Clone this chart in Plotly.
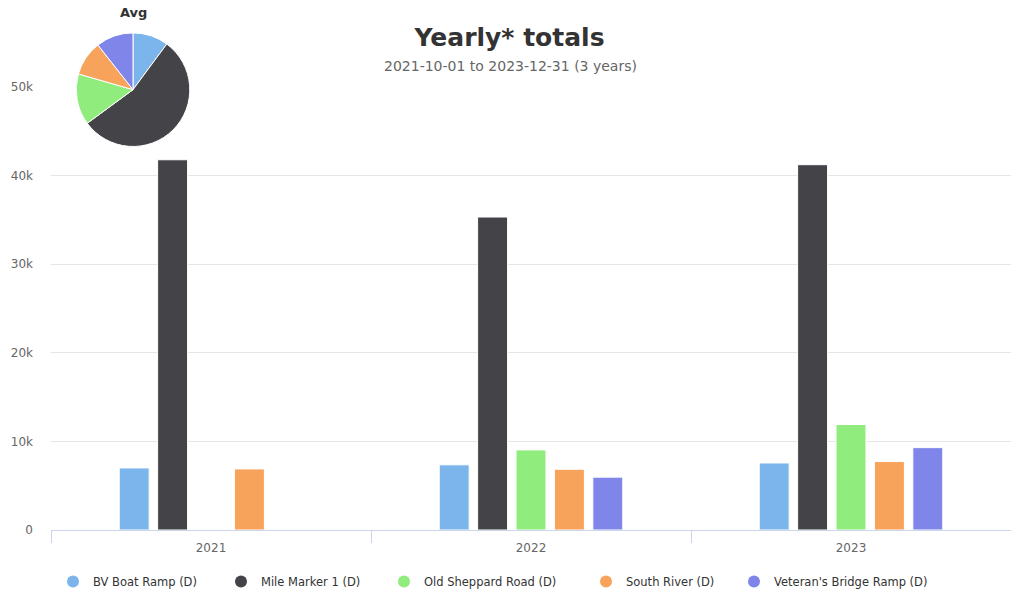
import plotly.graph_objects as go

years = ["2021", "2022", "2023"]
series_names = ["BV Boat Ramp (D)", "Mile Marker 1 (D)", "Old Sheppard Road (D)",
                "South River (D)", "Veteran's Bridge Ramp (D)"]
colors = ["#7cb5ec", "#434348", "#90ed7d", "#f7a35c", "#8085e9"]

bv_boat_ramp = [7000, 7350, 7560]
mile_marker_1 = [41760, 35300, 41200]
old_sheppard_road = [None, 9030, 11900]
south_river = [6890, 6850, 7720]
veterans_bridge = [None, 5960, 9290]

series_values = [bv_boat_ramp, mile_marker_1, old_sheppard_road, south_river, veterans_bridge]

y_tick_vals = [0, 10000, 20000, 30000, 40000, 50000]
y_tick_text = ["0", "10k", "20k", "30k", "40k", "50k"]

# legend entry widths (px) to reproduce spacing of the original legend
legend_widths = [123, 118, 157, 103, 160]

W, H = 1011, 596
ML, MR, MT, MB = 51, 0, 5, 66
plot_h = H - MT - MB
y_top_px = 85  # pixel of 50k
ydom_top = (H - MB - y_top_px) / plot_h

def px_to_paper_x(px):
    return (px - ML) / (W - ML - MR)

def px_to_paper_y(py):
    return (H - MB - py) / plot_h

fig = go.Figure()

for name, vals, col, lw in zip(series_names, series_values, colors, legend_widths):
    fig.add_trace(go.Bar(
        x=years, y=vals, name=name, marker=dict(color=col, line=dict(color="white", width=1)),
        legendgroup=name, showlegend=False,
    ))
    fig.add_trace(go.Scatter(
        x=[None], y=[None], mode="markers", name=name, legendgroup=name, legendwidth=lw,
        marker=dict(symbol="circle", size=12, color=col), showlegend=True,
    ))

# Average pie
avg_values = []
for vals in series_values:
    present = [v for v in vals if v is not None]
    avg_values.append(sum(present) / len(present))

fig.add_trace(go.Pie(
    labels=series_names, values=avg_values, sort=False, direction="clockwise", rotation=0,
    marker=dict(colors=colors, line=dict(color="white", width=1)),
    textinfo="none", showlegend=False,
    domain=dict(x=[px_to_paper_x(76), px_to_paper_x(190)],
                y=[px_to_paper_y(145), px_to_paper_y(31)]),
))

fig.update_layout(
    width=W, height=H,
    margin=dict(l=ML, r=MR, t=MT, b=MB),
    paper_bgcolor="white", plot_bgcolor="white",
    font=dict(family="DejaVu Sans", color="#666666", size=11),
    barmode="group", bargap=0.4, bargroupgap=0.22,
    title=dict(text="<b>Yearly* totals</b>", x=0.504, xanchor="center",
               y=1 - 37 / H, yanchor="middle",
               font=dict(family="DejaVu Sans", size=25, color="#333333")),
    xaxis=dict(type="category", showgrid=False, showline=True, linecolor="#ccd6eb",
               ticks="outside", tickson="boundaries", ticklen=12, tickcolor="#ccd6eb",
               ticklabelstandoff=7,
               tickfont=dict(size=12, color="#666666"), fixedrange=True),
    yaxis=dict(domain=[0, ydom_top], range=[0, 50000], tickvals=y_tick_vals, ticktext=y_tick_text,
               showgrid=True, gridcolor="#e6e6e6", zeroline=False, showline=False,
               ticks="", ticklabelstandoff=17,
               tickfont=dict(size=12, color="#666666")),
    legend=dict(orientation="h", x=px_to_paper_x(53), xanchor="left", y=px_to_paper_y(582),
                yanchor="middle",
                font=dict(family="DejaVu Sans", size=11.5, color="#333333"),
                itemsizing="constant", bgcolor="rgba(0,0,0,0)"),
    annotations=[
        dict(text="2021-10-01 to 2023-12-31 (3 years)", xref="paper", yref="paper",
             x=px_to_paper_x(510), y=px_to_paper_y(64), xanchor="center", yanchor="middle",
             showarrow=False, font=dict(family="DejaVu Sans", size=14, color="#666666")),
        dict(text="<b>Avg</b>", xref="paper", yref="paper",
             x=px_to_paper_x(133), y=px_to_paper_y(11), xanchor="center", yanchor="middle",
             showarrow=False, font=dict(family="DejaVu Sans", size=13, color="#333333")),
    ],
)

fig.write_html("out.html", config={"displayModeBar": False},
               post_script="document.body.style.margin='0';")
